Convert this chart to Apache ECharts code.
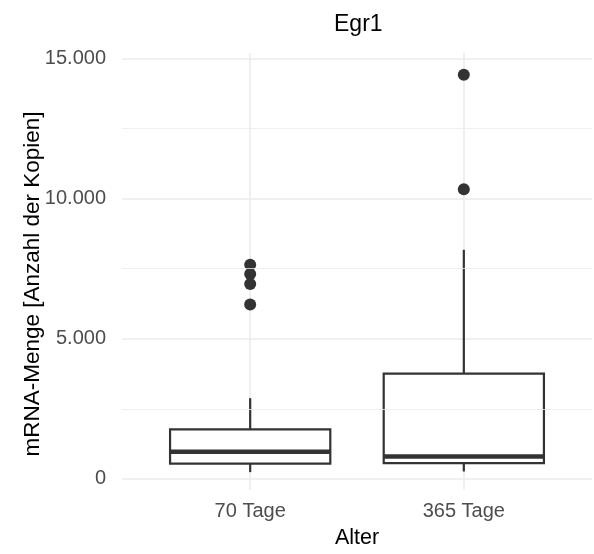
<!DOCTYPE html>
<html><head><meta charset="utf-8">
<script src="https://cdn.jsdelivr.net/npm/echarts@6/dist/echarts.min.js"></script>
<style>html,body{margin:0;padding:0;background:#fff}#c{width:594px;height:554px}</style>
</head><body><div id="c"></div>
<script>
const categories = ['70 Tage', '365 Tage'];
const whiskerLow = [238, 260];
const q1 = [544, 558];
const median = [970, 793];
const q3 = [1767, 3757];
const whiskerHigh = [2880, 8176];
const outliers = [
  [7643, 7312, 6957, 6221],
  [14422, 10334]
];
const yTicks = [0, 5000, 10000, 15000];
const yMinorTicks = [2500, 7500, 12500];

const FONT = '"Liberation Sans", Arial, sans-serif';
const boxData = categories.map((c, i) => [i + 1, whiskerLow[i], q1[i], median[i], q3[i], whiskerHigh[i]]);
const outlierData = [];
outliers.forEach((arr, i) => arr.forEach(v => outlierData.push([i + 1, v])));

function fmt(v) {
  return String(Math.round(v)).replace(/\B(?=(\d{3})+(?!\d))/g, '.');
}

const chart = echarts.init(document.getElementById('c'), null, {renderer: 'canvas'});
chart.setOption({
  animation: false,
  backgroundColor: '#ffffff',
  title: {
    text: 'Egr1', left: 334, top: 13, padding: 0,
    textStyle: {fontFamily: FONT, fontSize: 23, fontWeight: 'normal', color: '#000000'}
  },
  graphic: [{
    type: 'text', x: 33, y: 284, rotation: Math.PI / 2, silent: true,
    style: {
      text: 'mRNA-Menge [Anzahl der Kopien]', fontFamily: FONT, fontSize: 22.5,
      fill: '#000000', align: 'center', verticalAlign: 'middle'
    }
  }],
  grid: {left: 122, right: 2, top: 53, bottom: 61, containLabel: false},
  xAxis: {
    type: 'value', min: 0.4, max: 2.6,
    name: 'Alter', nameLocation: 'middle', nameGap: 37,
    nameTextStyle: {fontFamily: FONT, fontSize: 21.5, color: '#000000'},
    axisLine: {show: false},
    axisTick: {show: false, customValues: [1, 2]},
    axisLabel: {
      customValues: [1, 2], margin: 11,
      fontFamily: FONT, fontSize: 20, color: '#4d4d4d',
      formatter: v => categories[Math.round(v) - 1]
    },
    splitLine: {show: true, lineStyle: {color: '#ebebeb', width: 1.6}}
  },
  yAxis: {
    type: 'value', min: -400, max: 15202,
    axisLine: {show: false},
    axisTick: {show: false, customValues: yTicks},
    axisLabel: {
      customValues: yTicks, margin: 16,
      fontFamily: FONT, fontSize: 20, color: '#4d4d4d',
      formatter: v => fmt(v)
    },
    splitLine: {show: true, lineStyle: {color: '#ebebeb', width: 1.6}}
  },
  series: [
    {
      type: 'line', data: [], silent: true,
      markLine: {
        silent: true, symbol: 'none', label: {show: false},
        lineStyle: {color: '#ebebeb', width: 0.8, type: 'solid'},
        data: yMinorTicks.map(v => ({yAxis: v}))
      }
    },
    {
      type: 'custom',
      data: boxData,
      renderItem: function (params, api) {
        const x = api.value(0);
        const w = api.size([0.75, 0])[0];
        const pLow = api.coord([x, api.value(1)]);
        const pQ1 = api.coord([x, api.value(2)]);
        const pMed = api.coord([x, api.value(3)]);
        const pQ3 = api.coord([x, api.value(4)]);
        const pHigh = api.coord([x, api.value(5)]);
        const stroke = {stroke: '#333333', lineWidth: 2.2, fill: null};
        return {
          type: 'group',
          children: [
            {type: 'line', shape: {x1: pQ3[0], y1: pQ3[1], x2: pHigh[0], y2: pHigh[1]}, style: stroke},
            {type: 'line', shape: {x1: pQ1[0], y1: pQ1[1], x2: pLow[0], y2: pLow[1]}, style: stroke},
            {type: 'rect', shape: {x: pQ3[0] - w / 2, y: pQ3[1], width: w, height: pQ1[1] - pQ3[1]},
              style: {stroke: '#333333', lineWidth: 2.2, fill: '#ffffff'}},
            {type: 'line', shape: {x1: pMed[0] - w / 2, y1: pMed[1], x2: pMed[0] + w / 2, y2: pMed[1]},
              style: {stroke: '#333333', lineWidth: 4.5}}
          ]
        };
      }
    },
    {
      type: 'scatter',
      data: outlierData,
      symbol: 'circle', symbolSize: 12,
      itemStyle: {color: '#333333', opacity: 1}
    }
  ]
});
</script>
</body></html>
